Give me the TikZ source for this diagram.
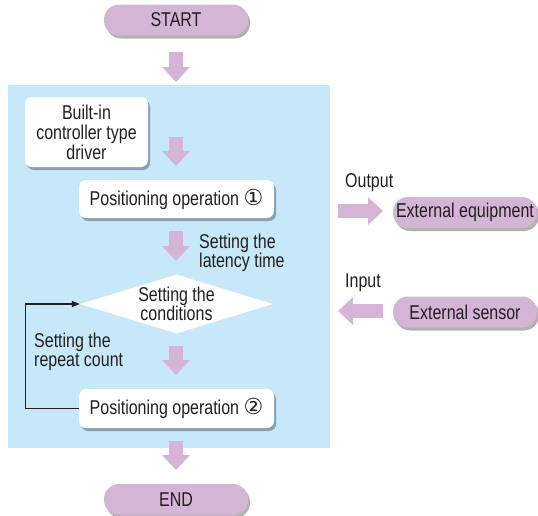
\documentclass[tikz,border=0pt]{standalone}
\usepackage{fontspec}
\setmainfont{Liberation Sans}[FakeStretch=0.8]
\newfontfamily\circfont{DejaVu Sans}
\usetikzlibrary{shapes.geometric,shadows,arrows.meta,calc}
\definecolor{pill}{HTML}{D4B5D6}
\definecolor{parrow}{HTML}{D6B4D8}
\definecolor{bluebg}{HTML}{C6E8F8}
\definecolor{txt}{HTML}{231F20}
\newcommand\fs{\fontsize{20}{20}\selectfont}
\newcommand\circd[1]{{\circfont\fontsize{22}{20}\selectfont #1}}
\tikzset{
  every node/.append style={text=txt, font=\fs},
  shadowed/.style={drop shadow={shadow xshift=2pt,shadow yshift=-3pt,opacity=0.3,fill=black}},
  pillnode/.style={fill=pill, rounded corners=15pt, minimum height=31pt, minimum width=144pt, inner sep=0pt, shadowed},
  boxnode/.style={fill=white, rounded corners=7pt, inner sep=0pt, shadowed},
  blockarr/.style={draw=parrow, line width=14pt, -{Triangle[width=27pt,length=15pt]}},
  loopline/.style={draw=txt, line width=1.1pt, -{Triangle[width=6pt,length=8pt]}},
  lbl/.style={anchor=north west, align=left, inner sep=0pt, font=\fontsize{20}{19.5}\selectfont}
}
\begin{document}
\begin{tikzpicture}[x=1pt,y=-1pt]
\useasboundingbox (0,0) rectangle (538,515);
\fill[bluebg] (8,85) rectangle (330,448);
% nodes
\node[pillnode] (start) at (176,20) {START};
\node[boxnode, minimum width=123pt, minimum height=70pt, align=center] (builtin) at (86.5,132) {Built-in\\controller type\\driver};
\node[boxnode, minimum width=195pt, minimum height=38pt] (pos1) at (176.5,199) {Positioning operation \circd{①}};
\node[diamond, fill=white, aspect=3.27, minimum width=193pt, minimum height=59pt, inner sep=0pt, align=center, font=\fontsize{20}{18}\selectfont] (cond) at (176.5,304) {Setting the\\conditions};
\node[boxnode, minimum width=195pt, minimum height=39pt] (pos2) at (176.5,408.5) {Positioning operation \circd{②}};
\node[pillnode] (end) at (176,499.5) {END};
\node[pillnode] (equip) at (465,212.5) {External equipment};
\node[pillnode] (sensor) at (465,312) {External sensor};
% labels
\node[lbl] (lat) at (199,233.5) {Setting the\\latency time};
\node[lbl] (rep) at (34,332.5) {Setting the\\repeat count};
\node[lbl] (outl) at (345,173.5) {Output};
\node[lbl] (inl) at (345,274) {Input};
% block arrows
\coordinate (a1s) at (176,52);  \coordinate (a1e) at (176,82);
\coordinate (a2s) at (176,137); \coordinate (a2e) at (176,166);
\coordinate (a3s) at (176,231); \coordinate (a3e) at (176,261);
\coordinate (a4s) at (176,346); \coordinate (a4e) at (176,375);
\coordinate (a5s) at (176,441); \coordinate (a5e) at (176,470);
\coordinate (os) at (338,211);  \coordinate (oe) at (383,211);
\coordinate (is) at (383,311);  \coordinate (ie) at (338,311);
\draw[blockarr] (a1s) -- (a1e);
\draw[blockarr] (a2s) -- (a2e);
\draw[blockarr] (a3s) -- (a3e);
\draw[blockarr] (a4s) -- (a4e);
\draw[blockarr] (a5s) -- (a5e);
\draw[blockarr] (os) -- (oe);
\draw[blockarr] (is) -- (ie);
% loop
\draw[loopline] (pos2.west) -- ++(-53,0) |- (cond.west);
\end{tikzpicture}
\end{document}
